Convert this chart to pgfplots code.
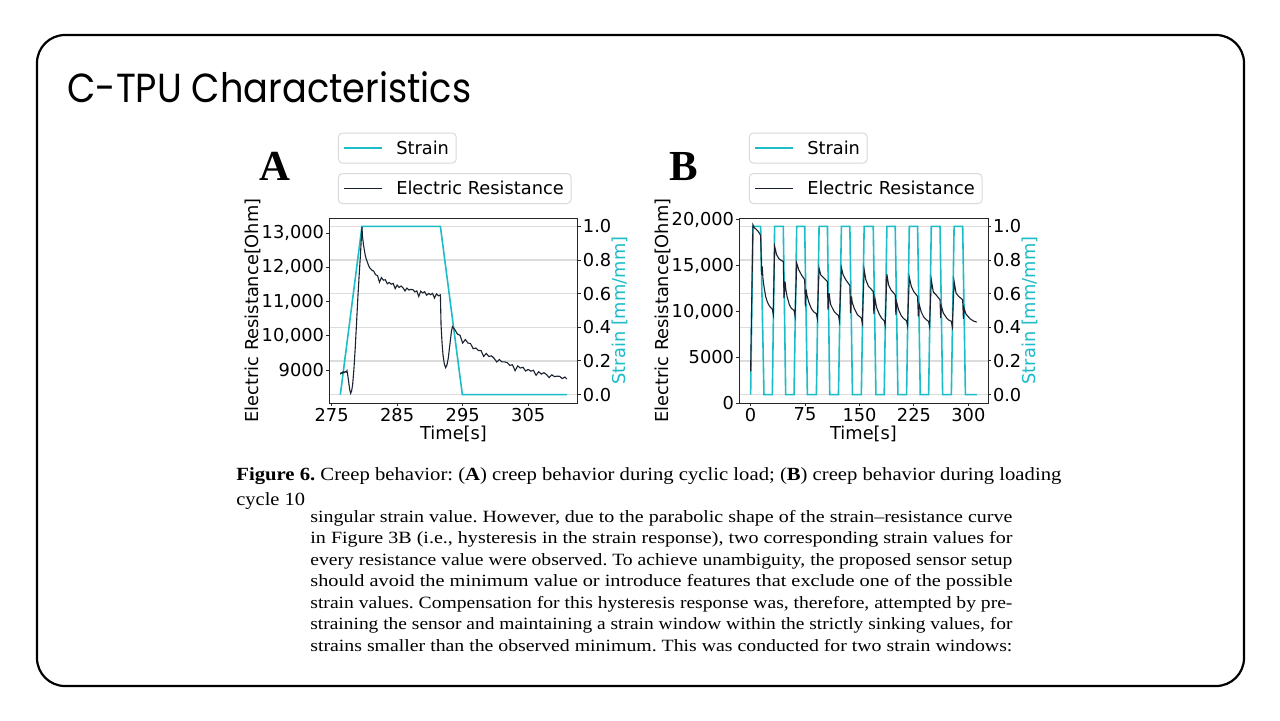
\documentclass[border=0pt]{standalone}
\usepackage{fontspec}
\setmainfont{Liberation Serif}
\newfontfamily\dejavu{DejaVu Sans}
\newfontfamily\poppins{Poppins}
\usepackage{graphicx}
\usepackage{pgfplots}
\pgfplotsset{compat=1.18}
\definecolor{strainc}{HTML}{1CBCC8}
\definecolor{resc}{HTML}{1A2230}
\definecolor{gridc}{HTML}{DCDCDC}
\pgfplotsset{
  myax/.style={scale only axis, width=124.5pt, height=92.5pt, anchor=south west,
    scaled ticks=false,
    axis line style={line width=0.5pt, color=black!85},
    tick style={line width=0.5pt, color=black!85},
    major tick length=1.4pt, tick align=outside,
    tick label style={font=\dejavu\fontsize{8.9}{10}\selectfont, inner sep=0.9pt},
    label style={font=\dejavu\fontsize{8.9}{10}\selectfont},
    /pgf/number format/assume math mode=true,
    legend cell align=left,
    legend image code/.code={\draw[##1, line width=0.6pt] (0pt,0pt) -- (18.8pt,0pt); \path[draw=none] (0pt,0pt) (25pt,0pt);},
    legend style={draw=black!15, line width=0.5pt, rounded corners=2pt, fill=white, inner xsep=2.6pt, inner ysep=2pt,
      font=\dejavu\fontsize{8.9}{10}\selectfont,
      nodes={inner xsep=1.0pt, inner ysep=2pt, text height=6.6pt, text depth=0.4pt}},
  },
  strainax/.style={myax, axis y line*=right, axis x line=none,
    ymin=-0.05, ymax=1.05, ytick={0,0.2,0.4,0.6,0.8,1.0},
    yticklabel style={/pgf/number format/.cd, fixed, fixed zerofill, precision=1},
    ymajorgrids, grid style={gridc, line width=0.6pt},
    ylabel={Strain [mm/mm]},
    ylabel style={color=strainc, at={(axis description cs:1.169,0.5)}, anchor=center, rotate=0},
  },
  resax/.style={myax, xtick pos=left, ytick pos=left,
    ylabel={Electric Resistance[Ohm]},
    ylabel style={at={(axis description cs:-0.305,0.5)}, anchor=center},
    xlabel={Time[s]},
    xlabel style={at={(axis description cs:0.5,-0.165)}, anchor=center},
  },
}
\begin{document}
\begin{tikzpicture}[x=0.5pt,y=-0.5pt]
\path[use as bounding box] (0,0) rectangle (1280,720);
\fill[white] (0,0) rectangle (1280,720);
\draw[line width=1.1pt, rounded corners=14pt] (37,35) rectangle (1244,686);
\node[anchor=base west, inner sep=0] at (67,102) {\scalebox{0.905}[1]{\poppins\fontsize{20.3}{24}\selectfont C-TPU Characteristics}};

% ---------------- Panel A ----------------
\node[anchor=base, inner sep=0] at (275,180) {\fontsize{21.4}{24}\selectfont\bfseries A};
\begin{axis}[strainax, at={(164.5pt,-201.5pt)}, xmin=274.6, xmax=312.6,
  legend style={at={(0.036,1.462)}, anchor=north west}]
\addplot[strainc, line width=0.8pt] coordinates {(276.33,0) (279.63,1) (291.6,1) (294.95,0) (310.9,0)};
\addlegendentry{Strain}
\end{axis}
\begin{axis}[resax, at={(164.5pt,-201.5pt)}, xmin=274.6, xmax=312.6, ymin=8040, ymax=13440,
  xtick={275,285,295,305},
  ytick={9000,10000,11000,12000,13000}, yticklabels={9000,{10,000},{11,000},{12,000},{13,000}},
  legend style={at={(0.036,1.243)}, anchor=north west}]
\addplot[resc, line width=0.55pt] coordinates {
(276.33,8877) (276.45,8925) (276.6,8905) (276.75,8950) (276.9,8925) (277.05,8960) (277.2,8940) (277.34,8985)
(277.45,8870) (277.6,8661) (277.75,8440) (277.9,8322) (278.05,8390) (278.2,8564) (278.4,9020) (278.6,9637)
(278.8,10360) (279.0,11099) (279.2,11760) (279.4,12365) (279.55,12900) (279.63,13180) (279.72,12880)
(279.85,12680) (280.0,12500) (280.15,12330) (280.35,12210) (280.6,12073) (280.8,11990) (281.0,11950) (281.2,11905)
(281.4,11897) (281.7,11785) (282.0,11762) (282.3,11568) (282.6,11700) (282.9,11626) (283.2,11638) (283.5,11518)
(283.8,11560) (284.1,11508) (284.4,11530) (284.7,11378) (285.0,11484) (285.3,11415) (285.6,11455) (285.9,11401)
(286.2,11312) (286.5,11396) (286.8,11340) (287.1,11355) (287.4,11349) (287.7,11283) (288.0,11312) (288.3,11151)
(288.6,11304) (288.9,11253) (289.2,11287) (289.5,11185) (289.8,11239) (290.1,11203) (290.4,11241) (290.7,11105)
(291.0,11224) (291.3,11167) (291.6,11196)
(291.7,10319) (291.85,9800) (292.0,9441) (292.2,9180) (292.4,9071) (292.6,9150) (292.8,9345) (293.05,9750)
(293.3,10150) (293.45,10269) (293.6,10230)
(293.8,10185) (294.2,10054) (294.6,10017) (295.0,9790) (295.4,9893) (295.8,9792) (296.2,9775) (296.6,9624)
(297.0,9645) (297.4,9572) (297.8,9573) (298.2,9400) (298.6,9486) (299.0,9397) (299.4,9418) (299.8,9344)
(300.2,9238) (300.6,9308) (301.0,9239) (301.4,9239) (301.8,9219) (302.2,9139) (302.6,9156) (303.0,8983)
(303.4,9124) (303.8,9061) (304.2,9083) (304.6,8974) (305.0,9019) (305.4,8970) (305.8,8996) (306.2,8847)
(306.6,8953) (307.0,8884) (307.4,8925) (307.8,8870) (308.2,8782) (308.6,8865) (309.0,8810) (309.4,8824)
(309.8,8819) (310.2,8753) (310.6,8798) (310.9,8740)};
\addlegendentry{Electric Resistance}
\end{axis}

% ---------------- Panel B ----------------
\node[anchor=base, inner sep=0] at (684,180) {\fontsize{21.4}{24}\selectfont\bfseries B};
\begin{axis}[strainax, at={(369.5pt,-201.5pt)}, xmin=-16, xmax=327,
  legend style={at={(0.040,1.462)}, anchor=north west}]
\addplot[strainc, line width=0.8pt] coordinates {
(0,0) (3.2,1) (13.8,1) (18.4,0) (29.9,0) (33.1,1) (45.0,1) (48.3,0) (59.8,0) (63.5,1) (74.5,1) (78.2,0)
(90.6,0) (94.3,1) (105.8,1) (109.0,0) (121.0,0) (125.1,1) (136.7,1) (140.3,0) (152.5,0) (156.4,1) (168.9,1)
(172.6,0) (184.0,0) (187.7,1) (199.2,1) (202.9,0) (214.8,0) (218.6,1) (230.0,1) (233.7,0) (245.2,0) (248.9,1)
(260.9,1) (264.5,0) (276.5,0) (280.3,1) (292.1,1) (295.9,0) (311.5,0)};
\addlegendentry{Strain}
\end{axis}
\begin{axis}[resax, at={(369.5pt,-201.5pt)}, xmin=-16, xmax=327, ymin=0, ymax=20200,
  xtick={0,75,150,225,300},
  ytick={0,5000,10000,15000,20000}, yticklabels={0,5000,{10,000},{15,000},{20,000}},
  legend style={at={(0.040,1.243)}, anchor=north west}]
\addplot[resc, line width=0.55pt] coordinates {
(0,3450) (3.2,19454) (5,19150) (6.9,19018) (8.5,18900) (10.5,18727) (12,18550) (13.8,18290) (15.2,14000) (16.0,14905)
(17,13600) (18.4,12727) (20.7,11636) (22.5,11150) (24.4,10800) (27,10480) (29.9,10254)
(31.2,9700) (33.1,17090) (35.9,16181) (39.1,15745) (42,15580) (45.0,15454) (46.0,11454) (47.4,13272) (48.5,12400)
(50.2,11636) (53.4,10727) (56,10350) (59.8,10108)
(61.2,9500) (63.5,15272) (66.3,14545) (70.0,14000) (74.5,13454) (75.4,10545) (76.6,12363) (77.8,11700) (80.1,11018)
(83.8,10290) (87,9950) (90.6,9745)
(91.9,9200) (94.3,14727) (96.6,14000) (101.2,13636) (105.8,13272) (106.7,10181) (108.1,12000) (109,11400) (110.4,10727)
(115.0,9999) (118,9750) (121.0,9563)
(122.3,9000) (125.1,14750) (127.4,14000) (131.1,13454) (136.7,12835) (137.6,9818) (138.9,11636) (140,11000) (142.6,10363)
(147.2,9636) (152.5,9272)
(153.8,8750) (156.4,14545) (158.7,13454) (162.4,12727) (165.6,12472) (168.9,12181) (169.8,9708) (171.2,11454) (173.5,10436)
(177.2,9708) (180.5,9250) (184.0,8981)
(185.3,8500) (187.7,14072) (190.0,12908) (193.2,12363) (199.2,11818) (200.1,9636) (201.1,11018) (203.8,10181) (207.5,9526)
(211,9200) (214.8,8981)
(216.1,8450) (218.6,13708) (221.4,12727) (224.6,12181) (230.0,11636) (231.0,9454) (232.4,10727) (235.1,9927) (238.8,9345)
(242,9100) (245.2,8909)
(246.5,8400) (248.9,13454) (251.7,12108) (255.4,11818) (260.9,11272) (261.8,9272) (262.8,10545) (265.5,9818) (270.1,9272)
(273,9050) (276.5,8909)
(277.8,8350) (280.3,13272) (283.0,12000) (286.7,11636) (292.1,11272) (293.1,9199) (294.0,10363) (296.7,9708) (302.2,9199)
(307,8950) (311.5,8836)};
\addlegendentry{Electric Resistance}
\end{axis}

% ---------------- Caption and text ----------------
\node[anchor=base west, inner sep=0] at (236,480) {\resizebox{412.5pt}{\height}{\frenchspacing\fontsize{9.3}{11}\selectfont\textbf{Figure 6.} Creep behavior: (\textbf{A}) creep behavior during cyclic load; (\textbf{B}) creep behavior during loading}};
\node[anchor=base west, inner sep=0] at (236,505) {\scalebox{1.1}[1]{\fontsize{9.3}{11}\selectfont cycle 10}};
\begin{scope}[every node/.style={anchor=base west, inner sep=0, font=\fontsize{8.6}{10}\selectfont\frenchspacing}]
\node at (310,522) {\resizebox{351pt}{\height}{singular strain value. However, due to the parabolic shape of the strain--resistance curve}};
\node at (310,543.5) {\resizebox{351pt}{\height}{in Figure 3B (i.e., hysteresis in the strain response), two corresponding strain values for}};
\node at (310,565) {\resizebox{351pt}{\height}{every resistance value were observed. To achieve unambiguity, the proposed sensor setup}};
\node at (310,586.5) {\resizebox{351pt}{\height}{should avoid the minimum value or introduce features that exclude one of the possible}};
\node at (310,608) {\resizebox{351pt}{\height}{strain values. Compensation for this hysteresis response was, therefore, attempted by pre-}};
\node at (310,629.5) {\resizebox{351pt}{\height}{straining the sensor and maintaining a strain window within the strictly sinking values, for}};
\node at (310,651) {\resizebox{351pt}{\height}{strains smaller than the observed minimum. This was conducted for two strain windows:}};
\end{scope}
\end{tikzpicture}
\end{document}
